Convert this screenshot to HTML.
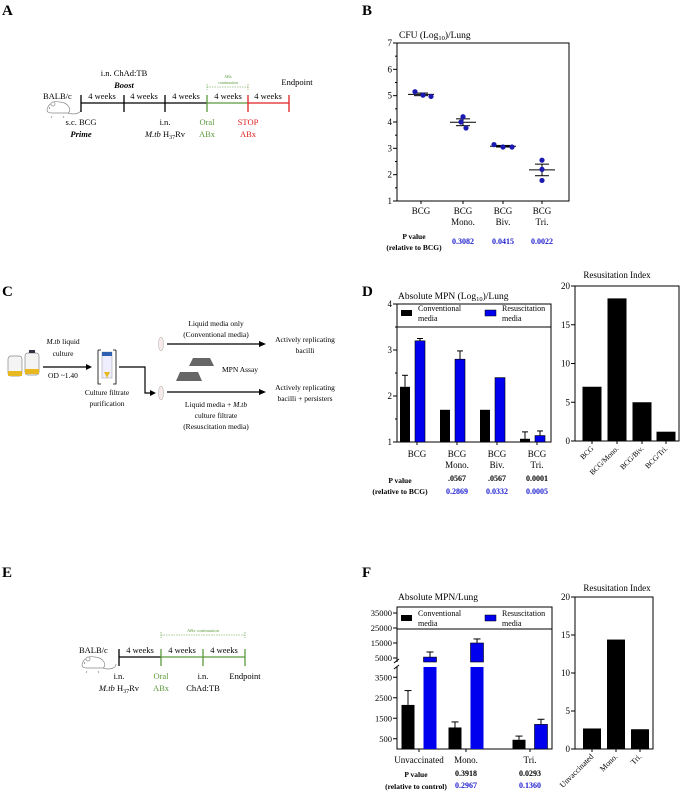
<!DOCTYPE html>
<html><head><meta charset="utf-8">
<style>
html,body{margin:0;padding:0;background:#fff;}
svg{display:block;font-family:"Liberation Serif",serif;}
</style></head>
<body>
<svg id="fig" width="682" height="793" viewBox="0 0 682 793" xmlns="http://www.w3.org/2000/svg">
<g font-weight="bold" font-size="15">
<text x="2" y="15">A</text>
<text x="362" y="15">B</text>
<text x="2" y="296">C</text>
<text x="362" y="296">D</text>
<text x="2" y="577">E</text>
<text x="362" y="577">F</text>
</g>

<!-- Panel A schematic -->
<g font-size="8.5">
<g fill="#fff" stroke="#888" stroke-width="0.7">
<path d="M47 110 q1 -6 6 -7 q3 -3 6 -1 q7 0 10 5 q2 4 -1 6 h-16 q-5 0 -5 -3 z"/>
<circle cx="53" cy="104" r="2"/>
<path d="M68 113 q6 2 10 0 q3 -1 3 -4" fill="none"/>
<path d="M52 116 l-1 2 M63 116 l1 2" fill="none"/>
<circle cx="49.5" cy="108" r="0.6" fill="#555" stroke="none"/>
</g>
<line x1="81" y1="103" x2="207" y2="103" stroke="#000" stroke-width="1.3"/>
<line x1="207" y1="103" x2="248" y2="103" stroke="#5a9a3a" stroke-width="1.3"/>
<line x1="248" y1="103" x2="289" y2="103" stroke="#e02020" stroke-width="1.3"/>
<line x1="81" y1="95" x2="81" y2="112" stroke="#000" stroke-width="1.3"/>
<line x1="124" y1="95" x2="124" y2="112" stroke="#000" stroke-width="1.3"/>
<line x1="165" y1="95" x2="165" y2="112" stroke="#000" stroke-width="1.3"/>
<line x1="207" y1="95" x2="207" y2="112" stroke="#5a9a3a" stroke-width="1.3"/>
<line x1="248" y1="95" x2="248" y2="112" stroke="#e02020" stroke-width="1.3"/>
<line x1="289" y1="95" x2="289" y2="112" stroke="#e02020" stroke-width="1.3"/>
<text x="43" y="99">BALB/c</text>
<text x="102" y="99" text-anchor="middle">4 weeks</text>
<text x="144" y="99" text-anchor="middle">4 weeks</text>
<text x="186" y="99" text-anchor="middle">4 weeks</text>
<text x="228" y="99" text-anchor="middle">4 weeks</text>
<text x="268" y="99" text-anchor="middle">4 weeks</text>
<text x="124" y="76" text-anchor="middle">i.n. ChAd:TB</text>
<text x="124" y="88" text-anchor="middle" font-weight="bold" font-style="italic">Boost</text>
<text x="297" y="85" text-anchor="middle">Endpoint</text>
<text x="81" y="125" text-anchor="middle">s.c. BCG</text>
<text x="81" y="137" text-anchor="middle" font-weight="bold" font-style="italic">Prime</text>
<text x="165" y="125" text-anchor="middle">i.n.</text>
<text x="165" y="137" text-anchor="middle"><tspan font-style="italic">M.tb</tspan> H<tspan font-size="6" dy="2">37</tspan><tspan dy="-2">Rv</tspan></text>
<text x="207" y="125" text-anchor="middle" fill="#5a9a3a">Oral</text>
<text x="207" y="137" text-anchor="middle" fill="#5a9a3a">ABx</text>
<text x="248" y="125" text-anchor="middle" fill="#e02020">STOP</text>
<text x="248" y="137" text-anchor="middle" fill="#e02020">ABx</text>
<path d="M207 84 v6 M207 87 H248 M248 84 v6" stroke="#5a9a3a" stroke-width="0.6" stroke-dasharray="1.5 1" fill="none"/>
<text x="228" y="78" text-anchor="middle" font-size="4" fill="#5a9a3a">ABx</text>
<text x="228" y="84" text-anchor="middle" font-size="4" fill="#5a9a3a">continuation</text>
</g>

<!-- Panel C schematic -->
<g font-size="7.5">
<rect x="8" y="356" width="14" height="20" rx="3" fill="#f4f4f4" stroke="#888" stroke-width="0.7"/>
<rect x="8" y="371" width="14" height="5" fill="#e8b820"/>
<rect x="25" y="353" width="14" height="22" rx="3" fill="#f4f4f4" stroke="#888" stroke-width="0.7"/>
<rect x="25" y="369" width="14" height="5" fill="#e8b820"/>
<rect x="29" y="350" width="6" height="3" fill="#334"/>
<line x1="43" y1="367" x2="86" y2="367" stroke="#000" stroke-width="1.2"/>
<polygon points="86,364 92,367 86,370"/>
<text x="63" y="344" text-anchor="middle"><tspan font-style="italic">M.tb</tspan> liquid</text>
<text x="63" y="356" text-anchor="middle">culture</text>
<text x="63" y="378" text-anchor="middle">OD ~1.40</text>
<path d="M98 350 h3 M98 350 v34 h3 M116 350 h-3 M116 350 v34 h-3" stroke="#000" stroke-width="0.8" fill="none"/>
<rect x="102" y="352" width="10" height="26" fill="#eef" stroke="#999" stroke-width="0.5"/>
<rect x="102" y="352" width="10" height="4" fill="#3060b0"/>
<polygon points="104,372 110,372 107,378" fill="#e8b820"/>
<text x="107" y="395" text-anchor="middle">Culture filtrate</text>
<text x="107" y="406" text-anchor="middle">purification</text>
<path d="M119 367 H145 V393 H150" stroke="#000" stroke-width="1.2" fill="none"/>
<polygon points="150,390 156,393 150,396"/>
<ellipse cx="161" cy="344" rx="2.5" ry="7" fill="#f7eaea" stroke="#aaa" stroke-width="0.5"/>
<ellipse cx="161" cy="393" rx="2.5" ry="7" fill="#f7eaea" stroke="#aaa" stroke-width="0.5"/>
<line x1="167" y1="344" x2="259" y2="344" stroke="#000" stroke-width="1.2"/>
<polygon points="259,341 266,344 259,347"/>
<line x1="167" y1="392" x2="259" y2="392" stroke="#000" stroke-width="1.2"/>
<polygon points="259,389 266,392 259,395"/>
<text x="216" y="326" text-anchor="middle">Liquid media only</text>
<text x="216" y="337" text-anchor="middle">(Conventional media)</text>
<text x="305" y="342" text-anchor="middle">Actively replicating</text>
<text x="305" y="353" text-anchor="middle">bacilli</text>
<polygon points="193,358 210,358 214,366 189,366" fill="#666"/>
<polygon points="180,372 198,372 202,381 176,381" fill="#666"/>
<text x="222" y="372">MPN Assay</text>
<text x="216" y="407" text-anchor="middle">Liquid media + <tspan font-style="italic">M.tb</tspan></text>
<text x="216" y="418" text-anchor="middle">culture filtrate</text>
<text x="216" y="429" text-anchor="middle">(Resuscitation media)</text>
<text x="305" y="390" text-anchor="middle">Actively replicating</text>
<text x="305" y="401" text-anchor="middle">bacilli + persisters</text>
</g>

<!-- Panel E schematic -->
<g font-size="8.5">
<g fill="#fff" stroke="#888" stroke-width="0.7">
<path d="M82 665 q1 -6 6 -7 q3 -3 6 -1 q7 0 10 5 q2 4 -1 6 h-16 q-5 0 -5 -3 z"/>
<circle cx="88" cy="659" r="2"/>
<path d="M103 668 q6 2 10 0 q3 -1 3 -4" fill="none"/>
<path d="M87 671 l-1 2 M98 671 l1 2" fill="none"/>
<circle cx="84.5" cy="663" r="0.6" fill="#555" stroke="none"/>
</g>
<line x1="119" y1="657" x2="161" y2="657" stroke="#000" stroke-width="1.3"/>
<line x1="161" y1="657" x2="245" y2="657" stroke="#5a9a3a" stroke-width="1.3"/>
<line x1="119" y1="649" x2="119" y2="666" stroke="#000" stroke-width="1.3"/>
<line x1="161" y1="649" x2="161" y2="666" stroke="#5a9a3a" stroke-width="1.3"/>
<line x1="203" y1="649" x2="203" y2="666" stroke="#5a9a3a" stroke-width="1.3"/>
<line x1="245" y1="649" x2="245" y2="666" stroke="#5a9a3a" stroke-width="1.3"/>
<text x="79" y="653">BALB/c</text>
<text x="140" y="653" text-anchor="middle">4 weeks</text>
<text x="182" y="653" text-anchor="middle">4 weeks</text>
<text x="224" y="653" text-anchor="middle">4 weeks</text>
<text x="119" y="679" text-anchor="middle">i.n.</text>
<text x="119" y="691" text-anchor="middle"><tspan font-style="italic">M.tb</tspan> H<tspan font-size="6" dy="2">37</tspan><tspan dy="-2">Rv</tspan></text>
<text x="161" y="679" text-anchor="middle" fill="#5a9a3a">Oral</text>
<text x="161" y="691" text-anchor="middle" fill="#5a9a3a">ABx</text>
<text x="203" y="679" text-anchor="middle">i.n.</text>
<text x="203" y="691" text-anchor="middle">ChAd:TB</text>
<text x="245" y="679" text-anchor="middle">Endpoint</text>
<path d="M161 632 v6 M161 635 H245 M245 632 v6" stroke="#5a9a3a" stroke-width="0.6" stroke-dasharray="1.5 1" fill="none"/>
<text x="203" y="632" text-anchor="middle" font-size="4.5" fill="#5a9a3a">ABx continuation</text>
</g>

<g id="charts"></g>
</svg>
<script>
// ---------- Panel B data ----------
const bCats = ["BCG", "BCG|Mono.", "BCG|Biv.", "BCG|Tri."];
const bPoints = [[5.15, 5.02, 4.97], [4.2, 4.0, 3.77], [3.14, 3.05, 3.05], [2.55, 2.2, 1.78]];
const bMeans = [5.05, 3.99, 3.08, 2.18];
const bSem = [0.05, 0.13, 0.03, 0.22];
const bTicks = [1, 2, 3, 4, 5, 6, 7];
const bPvals = ["", "0.3082", "0.0415", "0.0022"];
// ---------- Panel D data ----------
const dCats = ["BCG", "BCG|Mono.", "BCG|Biv.", "BCG|Tri."];
const dConv = [2.2, 1.7, 1.7, 1.07];
const dConvErr = [0.25, 0, 0, 0.15];
const dResus = [3.2, 2.8, 2.4, 1.14];
const dResusErr = [0.05, 0.18, 0, 0.1];
const dTicks = [1, 2, 3, 4];
const dPblack = ["", ".0567", ".0567", "0.0001"];
const dPblue = ["", "0.2869", "0.0332", "0.0005"];
const dRiCats = ["BCG", "BCG/Mono.", "BCG/Biv.", "BCG/Tri."];
const dRi = [7, 18.4, 5, 1.2];
const riTicks = [0, 5, 10, 15, 20];
// ---------- Panel F data ----------
const fCats = ["Unvaccinated", "Mono.", "Tri."];
const fConv = [2150, 1050, 450];
const fConvErr = [700, 270, 180];
const fResus = [5600, 15000, 1200];
const fResusErr = [3400, 2700, 250];
const fTicksLow = [500, 1500, 2500, 3500];
const fTicksHigh = [5000, 15000, 25000, 35000];
const fPblack = ["", "0.3918", "0.0293"];
const fPblue = ["", "0.2967", "0.1360"];
const fRiCats = ["Unvaccinated", "Mono.", "Tri."];
const fRi = [2.7, 14.4, 2.6];

const NS = "http://www.w3.org/2000/svg";
const root = document.getElementById("charts");
function mk(tag, attrs, parent, txt) {
  const e = document.createElementNS(NS, tag);
  for (const k in attrs) e.setAttribute(k, attrs[k]);
  if (txt !== undefined) e.textContent = txt;
  (parent || root).appendChild(e);
  return e;
}
function catLabel(g, x, y, lbl) {
  lbl.split("|").forEach((s, i) => {
    const t = mk("text", {x: x, y: y + i * 11, "text-anchor": "middle", "font-size": "9"}, g, s);
    
    
  });
}
function errBar(g, x, y0, y1, w) {
  mk("line", {x1: x, x2: x, y1: y0, y2: y1, stroke: "#000", "stroke-width": 1}, g);
  mk("line", {x1: x - w / 2, x2: x + w / 2, y1: y1, y2: y1, stroke: "#000", "stroke-width": 1}, g);
}

// ===== Panel B =====
(function () {
  const g = mk("g", {});
  
  
  const x0 = 397, x1 = 569, yTop = 43, yBot = 201;
  const ys = v => yBot - (v - 1) / 6 * (yBot - yTop);
  const xc = [421, 463, 503, 542];
  const jit = [[-6, 2, 10], [0, -2, 3], [-9, 0, 9], [0, 0, 0]];
  mk("rect", {x: x0, y: yTop, width: x1 - x0, height: yBot - yTop, fill: "none", stroke: "#000", "stroke-width": 1}, g);
  const tl = mk("text", {x: 399, y: 38, "font-size": "9.5"}, g);
  tl.innerHTML = 'CFU (Log<tspan font-size="6.5" dy="2">10</tspan><tspan dy="-2">)/Lung</tspan>';
  
  
  bTicks.forEach(t => {
    mk("line", {x1: x0 - 4, x2: x0, y1: ys(t), y2: ys(t), stroke: "#000"}, g);
    mk("text", {x: x0 - 5, y: ys(t) + 3, "text-anchor": "end", "font-size": "9"}, g, t);
    if (t < 7) mk("line", {x1: x0 - 2, x2: x0, y1: ys(t + 0.5), y2: ys(t + 0.5), stroke: "#000"}, g);
  });
  bCats.forEach((c, i) => {
    mk("line", {x1: xc[i], x2: xc[i], y1: yBot, y2: yBot + 3, stroke: "#000"}, g);
    catLabel(g, xc[i], 214, c);
    const m = ys(bMeans[i]);
    const ml = mk("line", {x1: xc[i] - 13, x2: xc[i] + 13, y1: m, y2: m, stroke: "#000", "stroke-width": 1}, g);
    
    
    mk("line", {x1: xc[i], x2: xc[i], y1: ys(bMeans[i] - bSem[i]), y2: ys(bMeans[i] + bSem[i]), stroke: "#000"}, g);
    [-1, 1].forEach(s => mk("line", {x1: xc[i] - 7, x2: xc[i] + 7, y1: ys(bMeans[i] + s * bSem[i]), y2: ys(bMeans[i] + s * bSem[i]), stroke: "#000"}, g));
    bPoints[i].forEach((v, j) => {
      const p = mk("circle", {cx: xc[i] + jit[i][j], cy: ys(v), r: 2.6, fill: "#1a1ab0"}, g);
      
      
    });
    if (bPvals[i]) mk("text", {x: xc[i], y: 244, "text-anchor": "middle", "font-size": "8", "font-weight": "bold", fill: "#2020d0"}, g, bPvals[i]);
  });
  mk("text", {x: 414, y: 239, "text-anchor": "middle", "font-size": "7.5", "font-weight": "bold"}, g, "P value");
  mk("text", {x: 414, y: 250, "text-anchor": "middle", "font-size": "7.5", "font-weight": "bold"}, g, "(relative to BCG)");
})();

function legend(g, y, sqH) {
  mk("rect", {x: 401, y: y, width: 11, height: sqH, fill: "#000"}, g);
  mk("text", {x: 418, y: y + 1, "font-size": "8"}, g, "Conventional");
  mk("text", {x: 418, y: y + 11, "font-size": "8"}, g, "media");
  mk("rect", {x: 485, y: y, width: 11, height: sqH, fill: "#0000ee", stroke: "#000", "stroke-width": 0.5}, g);
  mk("text", {x: 502, y: y + 1, "font-size": "8"}, g, "Resuscitation");
  mk("text", {x: 502, y: y + 11, "font-size": "8"}, g, "media");
}

// ===== Panel D =====
(function () {
  const g = mk("g", {});
  
  
  const x0 = 397, x1 = 551, yTop = 304, yBot = 442;
  const ys = v => yBot - (v - 1) / 3 * (yBot - yTop);
  const xc = [417, 457, 497, 537];
  mk("rect", {x: x0, y: yTop, width: x1 - x0, height: yBot - yTop, fill: "none", stroke: "#000"}, g);
  mk("line", {x1: x0, x2: x1, y1: 327, y2: 327, stroke: "#000"}, g);
  const tl = mk("text", {x: 398, y: 299, "font-size": "9.5"}, g);
  tl.innerHTML = 'Absolute MPN (Log<tspan font-size="6.5" dy="2">10</tspan><tspan dy="-2">)/Lung</tspan>';
  
  
  legend(g, 310, 6);
  dTicks.forEach(t => {
    mk("line", {x1: x0 - 4, x2: x0, y1: ys(t), y2: ys(t), stroke: "#000"}, g);
    mk("text", {x: x0 - 5, y: ys(t) + 3, "text-anchor": "end", "font-size": "9"}, g, t);
    if (t < 4) mk("line", {x1: x0 - 2, x2: x0, y1: ys(t + 0.5), y2: ys(t + 0.5), stroke: "#000"}, g);
  });
  dCats.forEach((c, i) => {
    mk("line", {x1: xc[i], x2: xc[i], y1: yBot, y2: yBot + 3, stroke: "#000"}, g);
    catLabel(g, xc[i], 457, c);
    if (dConvErr[i] > 0) errBar(g, xc[i] - 12, ys(dConv[i]), ys(dConv[i] + dConvErr[i]), 6);
    if (dResusErr[i] > 0) errBar(g, xc[i] + 3, ys(dResus[i]), ys(dResus[i] + dResusErr[i]), 6);
    const b1 = mk("rect", {x: xc[i] - 17, y: ys(dConv[i]), width: 10, height: yBot - ys(dConv[i]), fill: "#000"}, g);
    
    
    const b2 = mk("rect", {x: xc[i] - 2, y: ys(dResus[i]), width: 10, height: yBot - ys(dResus[i]), fill: "#0000ee", stroke: "#000", "stroke-width": 0.6}, g);
    
    
    if (dPblack[i]) mk("text", {x: xc[i], y: 481, "text-anchor": "middle", "font-size": "8", "font-weight": "bold"}, g, dPblack[i]);
    if (dPblue[i]) mk("text", {x: xc[i], y: 494, "text-anchor": "middle", "font-size": "8", "font-weight": "bold", fill: "#2020d0"}, g, dPblue[i]);
  });
  mk("text", {x: 400, y: 483, "text-anchor": "middle", "font-size": "7.5", "font-weight": "bold"}, g, "P value");
  mk("text", {x: 400, y: 494, "text-anchor": "middle", "font-size": "7.5", "font-weight": "bold"}, g, "(relative to BCG)");
})();

function riChart(name, cats, vals, x0, x1, yTop, yBot, xc, bw, titleY, labelFont) {
  const g = mk("g", {});
  
  
  const ys = v => yBot - v / 20 * (yBot - yTop);
  mk("rect", {x: x0, y: yTop, width: x1 - x0, height: yBot - yTop, fill: "none", stroke: "#000"}, g);
  const tl = mk("text", {x: 617, y: titleY, "text-anchor": "middle", "font-size": "9"}, g, "Resusitation Index");
  
  
  riTicks.forEach(t => {
    mk("line", {x1: x0 - 4, x2: x0, y1: ys(t), y2: ys(t), stroke: "#000"}, g);
    mk("text", {x: x0 - 5, y: ys(t) + 3, "text-anchor": "end", "font-size": "9"}, g, t);
  });
  cats.forEach((c, i) => {
    const b = mk("rect", {x: xc[i] - bw / 2, y: ys(vals[i]), width: bw, height: yBot - ys(vals[i]), fill: "#000"}, g);
    
    
    mk("line", {x1: xc[i], x2: xc[i], y1: yBot, y2: yBot + 3, stroke: "#000"}, g);
    const t = mk("text", {x: xc[i] + 2, y: yBot + 8, "text-anchor": "end", "font-size": labelFont, transform: `rotate(-45 ${xc[i] + 2} ${yBot + 8})`}, g, c);
    
    
  });
}
riChart('resuscitation-index-chart-d', dRiCats, dRi, 575, 679, 286, 441, [592, 617, 642, 666], 19, 278, "7.5");
riChart('resuscitation-index-chart-f', fRiCats, fRi, 575, 653, 597, 749, [592, 616, 640], 18, 591, "8");

// ===== Panel F =====
(function () {
  const g = mk("g", {});
  
  
  const x0 = 397, x1 = 552, yTop = 607, yBot = 749;
  const breakLow = 667, breakHigh = 662;
  const yLow = v => yBot - v * 0.0205;
  const yHigh = v => 658 - (v - 5000) * 0.0015;
  const ys = v => v <= 4000 ? yLow(v) : yHigh(v);
  const xc = [419, 466, 530];
  mk("path", {d: `M${x0} ${breakHigh} V${yTop} H${x1} V${yBot} H${x0} V${breakLow}`, fill: "none", stroke: "#000"}, g);
  mk("line", {x1: x0 - 3, x2: x0 + 2, y1: breakHigh + 1, y2: breakHigh - 3, stroke: "#000"}, g);
  mk("line", {x1: x0 - 3, x2: x0 + 2, y1: breakLow + 2, y2: breakLow - 2, stroke: "#000"}, g);
  mk("line", {x1: x0, x2: x1, y1: 629, y2: 629, stroke: "#000"}, g);
  const tl = mk("text", {x: 398, y: 600, "font-size": "9.5"}, g, "Absolute MPN/Lung");
  
  
  legend(g, 615, 6);
  fTicksLow.concat(fTicksHigh).forEach(t => {
    mk("line", {x1: x0 - 4, x2: x0, y1: ys(t), y2: ys(t), stroke: "#000"}, g);
    mk("text", {x: x0 - 5, y: ys(t) + 3, "text-anchor": "end", "font-size": "8.5"}, g, t);
  });
  fCats.forEach((c, i) => {
    mk("line", {x1: xc[i], x2: xc[i], y1: yBot, y2: yBot + 3, stroke: "#000"}, g);
    catLabel(g, xc[i], 763, c);
    const cx = xc[i] - 11, bx = xc[i] + 11;
    errBar(g, cx, ys(fConv[i]), ys(fConv[i] + fConvErr[i]), 7);
    errBar(g, bx, ys(fResus[i]), ys(fResus[i] + fResusErr[i]), 7);
    const b1 = mk("rect", {x: cx - 6.5, y: ys(fConv[i]), width: 13, height: yBot - ys(fConv[i]), fill: "#000"}, g);
    
    
    if (fResus[i] <= 4000) {
      const b2 = mk("rect", {x: bx - 6.5, y: ys(fResus[i]), width: 13, height: yBot - ys(fResus[i]), fill: "#0000ee", stroke: "#000", "stroke-width": 0.6}, g);
      
      
    } else {
      const b2 = mk("rect", {x: bx - 6.5, y: breakLow, width: 13, height: yBot - breakLow, fill: "#0000ee"}, g);
      
      
      const b3 = mk("rect", {x: bx - 6.5, y: ys(fResus[i]), width: 13, height: breakHigh - ys(fResus[i]), fill: "#0000ee", stroke: "#000", "stroke-width": 0.6}, g);
      
      
    }
    if (fPblack[i]) mk("text", {x: xc[i], y: 776, "text-anchor": "middle", "font-size": "8", "font-weight": "bold"}, g, fPblack[i]);
    if (fPblue[i]) mk("text", {x: xc[i], y: 788, "text-anchor": "middle", "font-size": "8", "font-weight": "bold", fill: "#2020d0"}, g, fPblue[i]);
  });
  mk("text", {x: 416, y: 777, "text-anchor": "middle", "font-size": "7.5", "font-weight": "bold"}, g, "P value");
  mk("text", {x: 416, y: 789, "text-anchor": "middle", "font-size": "7.5", "font-weight": "bold"}, g, "(relative to control)");
})();
</script>
</body></html>
